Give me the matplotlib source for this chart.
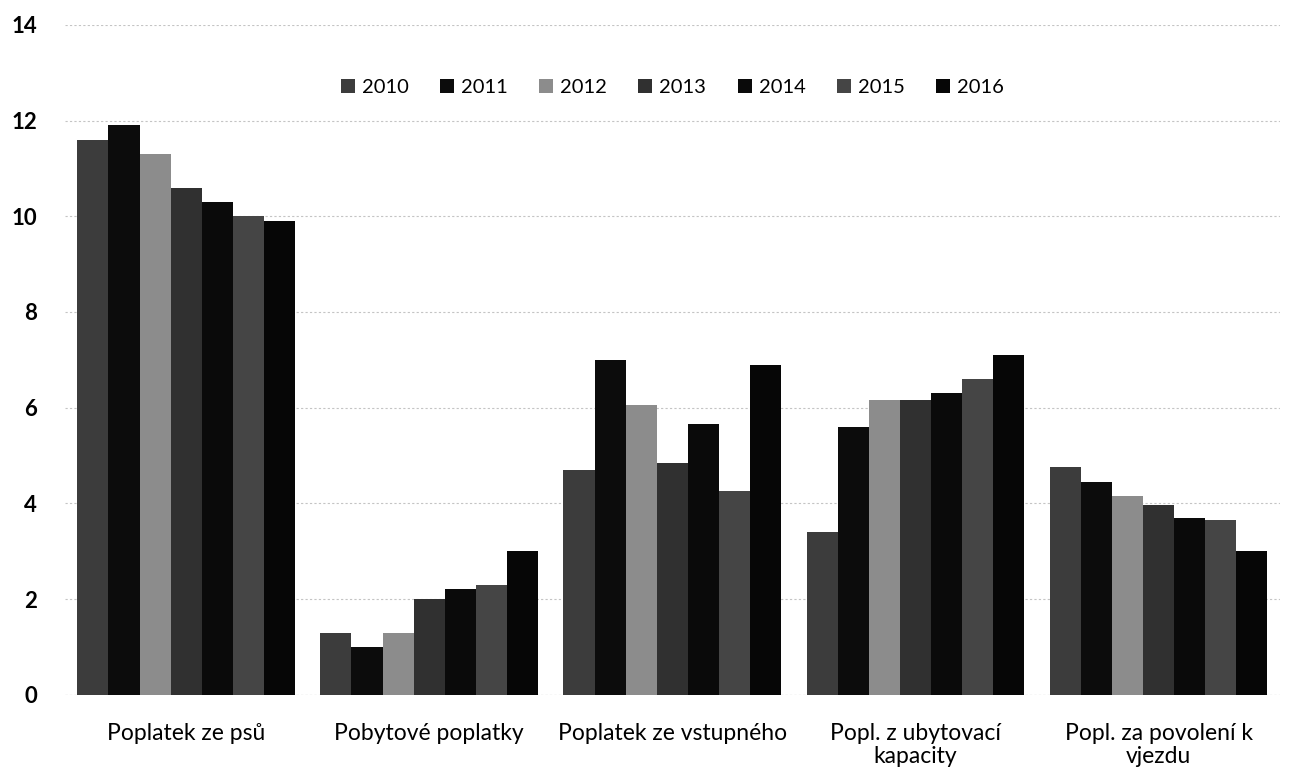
import numpy as np
import matplotlib.pyplot as plt

plt.rcParams["font.family"] = ["Lato", "DejaVu Sans"]

categories = ["Poplatek ze psů", "Pobytové poplatky", "Poplatek ze vstupného",
              "Popl. z ubytovací\nkapacity", "Popl. za povolení k\nvjezdu"]
years = ["2010", "2011", "2012", "2013", "2014", "2015", "2016"]
values = {
    "2010": [11.6, 1.3, 4.7, 3.4, 4.75],
    "2011": [11.9, 1.0, 7.0, 5.6, 4.45],
    "2012": [11.3, 1.3, 6.05, 6.15, 4.15],
    "2013": [10.6, 2.0, 4.85, 6.15, 3.97],
    "2014": [10.3, 2.2, 5.65, 6.3, 3.7],
    "2015": [10.0, 2.3, 4.25, 6.6, 3.65],
    "2016": [9.9, 3.0, 6.9, 7.1, 3.0],
}
colors = ["#3c3c3c", "#0c0c0c", "#8c8c8c", "#303030", "#0a0a0a", "#454545", "#060606"]

fig = plt.figure(figsize=(12.93, 7.78), dpi=100)
ax = fig.add_axes([0.050, 0.107, 0.940, 0.861])

x = np.arange(len(categories))
w = 0.128
for i, yr in enumerate(years):
    ax.bar(x + (i - 3) * w, values[yr], width=w, color=colors[i], label=yr, zorder=2)

ax.set_ylim(0, 14)
ax.set_xlim(-0.5, len(categories) - 0.5)
ax.set_yticks(range(0, 15, 2))
ax.set_xticks(x)
ax.set_xticklabels(categories, fontsize=16.5, linespacing=1.15)
ax.tick_params(axis="y", labelsize=16, length=0, pad=20)
ax.tick_params(axis="x", length=0, pad=20)
for lab in ax.get_yticklabels():
    lab.set_fontweight("bold")
ax.grid(axis="y", color="#c4c4c4", linestyle=(0, (2, 2)), linewidth=0.8, zorder=0)
for s in ["top", "right", "left", "bottom"]:
    ax.spines[s].set_visible(False)
ax.axhline(0, color="#b0b0b0", linestyle=(0, (2, 2)), linewidth=0.8, zorder=1)

ax.legend(loc="center", bbox_to_anchor=(0.5, 0.906), ncol=7, frameon=False,
          fontsize=14.5, handlelength=0.7, handleheight=0.7, handletextpad=0.35,
          columnspacing=1.55)

fig.savefig("out.png", dpi=100)
